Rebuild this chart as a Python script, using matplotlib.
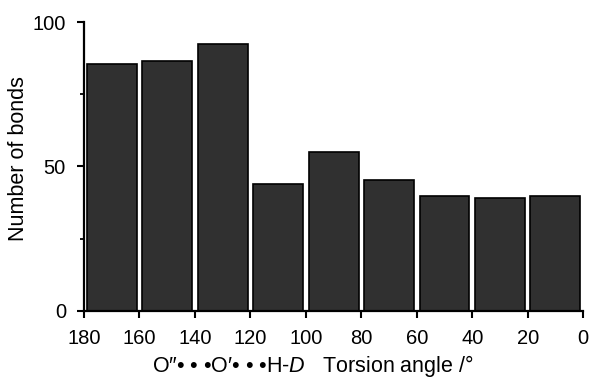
import numpy as np
import matplotlib
matplotlib.use("Agg")
import matplotlib.pyplot as plt

plt.rcParams['font.family'] = ['Liberation Sans', 'DejaVu Sans']
plt.rcParams['mathtext.fontset'] = 'custom'
plt.rcParams['mathtext.rm'] = 'Liberation Sans'
plt.rcParams['mathtext.it'] = 'Liberation Sans:italic'

# centres of the 20 degree torsion-angle bins and bond counts
bin_centre = [170, 150, 130, 110, 90, 70, 50, 30, 10]
counts = [85.5, 86.5, 92.5, 44, 55, 45.3, 39.8, 39.1, 39.9]
x_ticks = [180, 160, 140, 120, 100, 80, 60, 40, 20, 0]
y_ticks = [0, 50, 100]

fig = plt.figure(figsize=(5.9, 3.8), dpi=100)
ax = fig.add_axes([0.1424, 0.1816, 0.846, 0.7605])

ax.bar(bin_centre, counts, width=18, align='center',
       color='#303030', edgecolor='black', linewidth=1.2)

ax.set_xlim(180, 0)
ax.set_ylim(0, 100)
ax.set_xticks(x_ticks)
ax.set_yticks(y_ticks)
ax.set_yticks([25, 75], minor=True)

for s in ['top', 'right']:
    ax.spines[s].set_visible(False)
for s in ['left', 'bottom']:
    ax.spines[s].set_linewidth(1.6)

ax.tick_params(axis='both', which='major', direction='out', length=5,
               width=1.5, labelsize=14.5, pad=8)
ax.tick_params(axis='y', which='minor', direction='out', length=3, width=1.3)

# axis titles placed in figure coordinates
fig.text(0.032, 0.582, "Number of bonds", fontsize=15.5,
         rotation=90, ha='center', va='center')
fig.text(0.53, 0.022,
         "O\u2033\u2022 \u2022 \u2022O\u2032\u2022 \u2022 \u2022H-$\\mathit{D}$   Torsion angle /\u00b0",
         fontsize=15.5, ha='center', va='baseline')

fig.savefig("out.png", dpi=100)
